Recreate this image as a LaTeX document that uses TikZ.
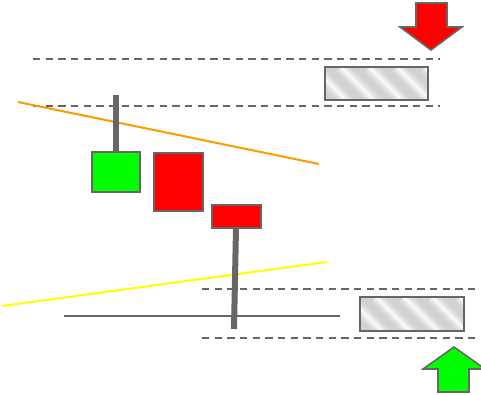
\documentclass[tikz,border=0pt]{standalone}
\usetikzlibrary{calc}
\definecolor{edgegray}{RGB}{102,102,102}
\definecolor{bull}{RGB}{0,255,0}
\definecolor{bear}{RGB}{255,0,0}
\definecolor{trendup}{RGB}{255,255,0}
\definecolor{trenddown}{RGB}{255,153,0}
\tikzset{
  level/.style={edgegray, line width=1.5pt, dash pattern=on 5.5pt off 4pt},
  candle/.style={draw=edgegray, line width=1.5pt},
  wick/.style={edgegray, line width=4.5pt},
  signal/.style={draw=edgegray, line width=1.2pt, line join=miter},
}
% silver zone with diagonal shine
\newcommand{\zonebox}[2]{%
  \begin{scope}
    \clip #1 rectangle #2;
    \fill[gray!35] #1 rectangle #2;
    \foreach \s in {-40,-12,...,130}{
      \draw[white, opacity=0.25, line width=9pt] ($#1+(\s,0)$) -- ++(40,40);
      \draw[white, opacity=0.45, line width=5pt] ($#1+(\s,0)$) -- ++(40,40);
      \draw[white, opacity=0.8, line width=1.5pt] ($#1+(\s,0)$) -- ++(40,40);
    }
  \end{scope}
  \draw[candle] #1 rectangle #2;
}
\begin{document}
\begin{tikzpicture}[x=0.75pt, y=-0.75pt]
  \useasboundingbox (0,0) rectangle (481,395);
  % Levels
  \draw[level] (33,59) -- (440,59);
  \draw[level] (33,106) -- (440,106);
  \draw[level] (202,289) -- (476,289);
  \draw[level] (202,338) -- (476,338);
  % Trend lines
  \draw[trenddown, line width=1.5pt] (18,102) -- (319,164);
  \draw[trendup, line width=1.5pt] (2,306) -- (327,262);
  \draw[edgegray, line width=1.5pt] (64,316) -- (340,316);
  % Zones
  \zonebox{(325,67)}{(428,100)}
  \zonebox{(360,297)}{(464,331)}
  % Candles
  \draw[wick] (116,95) -- (116,152);
  \filldraw[candle, fill=bull] (92,152) rectangle (140,192);
  \filldraw[candle, fill=bear] (154,153) rectangle (203,211);
  \draw[wick] (236,228) -- (234,329);
  \filldraw[candle, fill=bear] (212,205) rectangle (261,228);
  % Signals
  \filldraw[signal, fill=bear] (416,3) -- (447,3) -- (447,27) -- (462,27)
    -- (431,50) -- (400,27) -- (416,27) -- cycle;
  \filldraw[signal, fill=bull] (438,392) -- (469,392) -- (469,369) -- (485,369)
    -- (454,347) -- (423,369) -- (438,369) -- cycle;
\end{tikzpicture}
\end{document}
